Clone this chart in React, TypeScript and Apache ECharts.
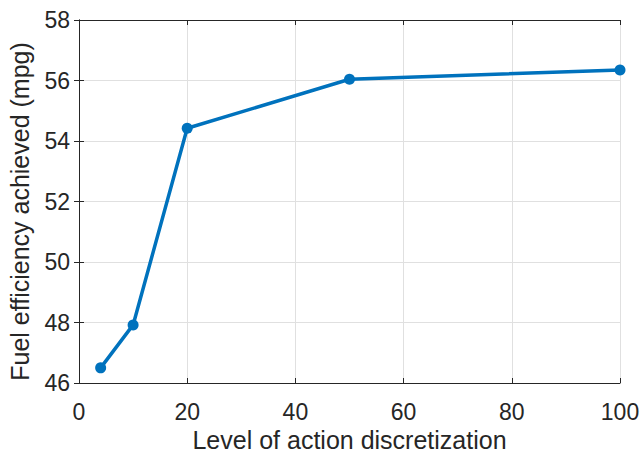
import React, { useEffect, useRef } from "react";
import * as echarts from "echarts";

const xValues = [4, 10, 20, 50, 100];
const yValues = [46.5, 47.92, 54.42, 56.04, 56.35];
const xTitle = "Level of action discretization";
const yTitle = "Fuel efficiency achieved (mpg)";

export default function App() {
  const ref = useRef<HTMLDivElement>(null);
  useEffect(() => {
    const chart = echarts.init(ref.current!, null, { renderer: "svg" });
    const font = "'Liberation Sans', Arial, Helvetica, sans-serif";
    const axisColor = "#262626";
    const baseX = {
      type: "value",
      min: 0,
      max: 100,
      interval: 20,
      axisLine: { show: true, lineStyle: { color: axisColor, width: 1 } },
      axisTick: { show: true, inside: true, length: 5, lineStyle: { color: axisColor } },
    };
    const baseY = {
      type: "value",
      min: 46,
      max: 58,
      interval: 2,
      axisLine: { show: true, lineStyle: { color: axisColor, width: 1 } },
      axisTick: { show: true, inside: true, length: 5, lineStyle: { color: axisColor } },
    };
    chart.setOption({
      animation: false,
      backgroundColor: "#ffffff",
      grid: { left: 79, right: 21, top: 20, bottom: 72, containLabel: false, outerBoundsMode: "none" },
      xAxis: [
        {
          ...baseX,
          position: "bottom",
          name: xTitle,
          nameLocation: "middle",
          nameGap: 42,
          nameTextStyle: { fontFamily: font, fontSize: 25, color: axisColor },
          axisLabel: { fontFamily: font, fontSize: 23, color: axisColor, margin: 17 },
          splitLine: { show: true, lineStyle: { color: "#e0e0e0", width: 1 } },
        },
        {
          ...baseX,
          position: "top",
          axisLabel: { show: false },
          splitLine: { show: false },
        },
      ],
      yAxis: [
        {
          ...baseY,
          position: "left",
          name: yTitle,
          nameLocation: "middle",
          nameGap: 47,
          nameTextStyle: { fontFamily: font, fontSize: 25, color: axisColor, padding: [0, 20, 0, 0] },
          axisLabel: { fontFamily: font, fontSize: 23, color: axisColor, margin: 9 },
          splitLine: { show: true, lineStyle: { color: "#e0e0e0", width: 1 } },
        },
        {
          ...baseY,
          position: "right",
          axisLabel: { show: false },
          splitLine: { show: false },
        },
      ],
      series: [
        {
          type: "line",
          data: xValues.map((x, i) => [x, yValues[i]]),
          xAxisIndex: 0,
          yAxisIndex: 0,
          symbol: "circle",
          symbolSize: 11,
          lineStyle: { color: "#0072BD", width: 3.5 },
          itemStyle: { color: "#0072BD" },
        },
      ],
    });
    return () => chart.dispose();
  }, []);
  return <div ref={ref} style={{ width: 641, height: 455, position: "absolute", left: 0, top: 0 }} />;
}
